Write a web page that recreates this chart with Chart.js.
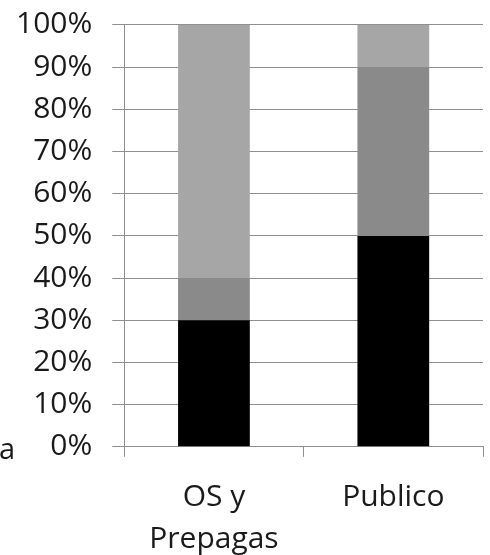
<!DOCTYPE html>
<html>
<head>
<meta charset="utf-8">
<script src="https://cdn.jsdelivr.net/npm/chart.js@4"></script>
<style>
  html, body { margin: 0; padding: 0; background: #fff; }
  #wrap { width: 490px; height: 555px; position: relative; }
</style>
</head>
<body>
<div id="wrap"><canvas id="c"></canvas></div>
<script>
// Categories and stacked shares (percent)
const categories = [['OS y', 'Prepagas'], 'Publico'];
const serieA = [30, 50];   // black, bottom
const serieB = [10, 40];   // dark grey, middle
const serieC = [60, 10];   // light grey, top
const yTicks = [0, 10, 20, 30, 40, 50, 60, 70, 80, 90, 100];
const legendFragment = 'a';

const gridColor = '#8f8f8f';
const font = { family: 'Open Sans', size: 30 };

// Cut-off legend text at the left edge
const edgeText = {
  id: 'edgeText',
  afterDraw(chart) {
    const ctx = chart.ctx;
    ctx.save();
    ctx.font = '29px "Open Sans"';
    ctx.fillStyle = '#1a1a1a';
    ctx.textAlign = 'right';
    ctx.textBaseline = 'middle';
    ctx.fillText(legendFragment, 15, chart.scales.y.getPixelForValue(0) + 4);
    ctx.restore();
  }
};

new Chart(document.getElementById('c'), {
  type: 'bar',
  data: {
    labels: categories,
    datasets: [
      { data: serieA, backgroundColor: '#000000' },
      { data: serieB, backgroundColor: '#8a8a8a' },
      { data: serieC, backgroundColor: '#a6a6a6' }
    ]
  },
  options: {
    responsive: true,
    maintainAspectRatio: false,
    animation: false,
    layout: { padding: { left: -4, right: 7, top: 12, bottom: -25 } },
    datasets: { bar: { categoryPercentage: 1, barPercentage: 0.4 } },
    plugins: { legend: { display: false }, tooltip: { enabled: false } },
    scales: {
      x: {
        stacked: true,
        grid: { offset: true, drawOnChartArea: false, drawTicks: true, tickLength: 10, color: gridColor },
        border: { display: true, color: gridColor },
        ticks: { font: Object.assign({ lineHeight: 1.42 }, font), color: '#1a1a1a', padding: 19, maxRotation: 0 }
      },
      y: {
        stacked: true,
        min: 0,
        max: 100,
        afterBuildTicks(scale) { scale.ticks = yTicks.map(v => ({ value: v })); },
        grid: { color: gridColor, tickLength: 12, drawTicks: true },
        border: { display: true, color: gridColor },
        ticks: { font: Object.assign({}, font, { lineHeight: 0.33 }), color: '#1a1a1a', padding: 20, callback: v => v + '%' }
      }
    }
  },
  plugins: [edgeText]
});
</script>
</body>
</html>
